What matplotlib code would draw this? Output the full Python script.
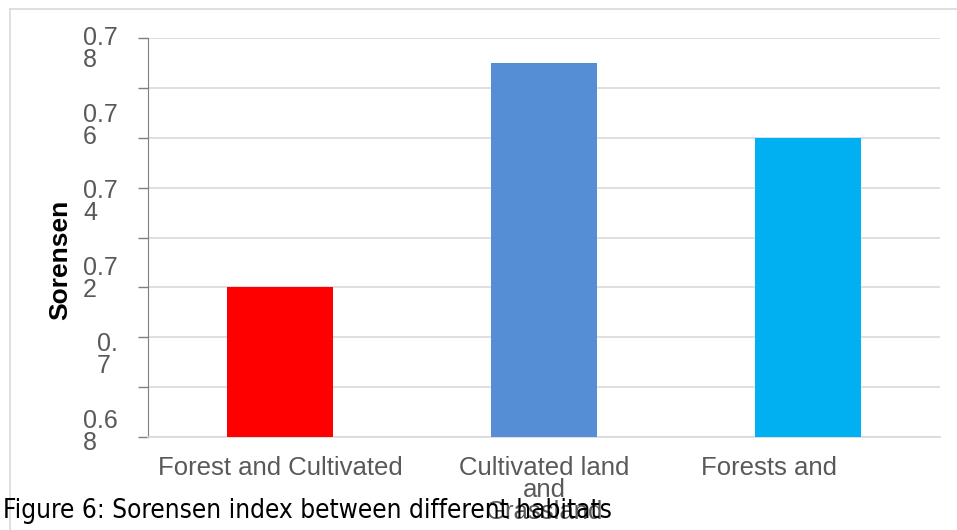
import matplotlib
matplotlib.use("Agg")
import matplotlib.pyplot as plt
from matplotlib import font_manager
import numpy as np

categories = ["Forest and Cultivated", "Cultivated land\nand\nGrassland", "Forests and"]
values = [0.7175, 0.7737, 0.755]
colors = ["#FF0000", "#558ED5", "#00B0F0"]
ytick_values = [0.78, 0.76, 0.74, 0.72, 0.70, 0.68]
ytick_labels = ["0.7\n8", "0.7\n6", "0.7\n4", "0.7\n2", "0.\n7", "0.6\n8"]
grid_values = list(np.linspace(0.68, 0.78, 9))
ylabel = "Sorensen"
caption = "Figure 6: Sorensen index between different habitats"

names = {f.name for f in font_manager.fontManager.ttflist}
narrow = "Liberation Sans Narrow" if "Liberation Sans Narrow" in names else "DejaVu Sans"

W, H = 957, 530
fig = plt.figure(figsize=(W / 100, H / 100), dpi=100)
fig.patch.set_facecolor("white")

# outer frame lines
fig.add_artist(plt.Line2D([10 / W, 1.0], [1 - 9 / H, 1 - 9 / H], color="#d9d9d9", lw=1.2))
fig.add_artist(plt.Line2D([10 / W, 10 / W], [1 - 9 / H, 0], color="#d9d9d9", lw=1.2))

ax_top, ax_bot = 38, 437
ax = fig.add_axes([148 / W, 1 - ax_bot / H, (940 - 148) / W, (ax_bot - ax_top) / H])
x = np.arange(len(categories))
ax.bar(x, values, width=0.4, color=colors, zorder=3)
ax.set_xlim(-0.5, 2.5)
ax.set_ylim(0.68, 0.78)

ax.set_yticks(grid_values)
ax.set_yticklabels([])
ax.tick_params(axis="y", length=7, color="#7f7f7f", width=1, direction="out")
ax.grid(axis="y", color="#d9d9d9", lw=1.2, zorder=0)
ax.set_xticks([])

for s in ["top", "right"]:
    ax.spines[s].set_visible(False)
ax.spines["left"].set_color("#7f7f7f")
ax.spines["bottom"].set_color("#d9d9d9")
ax.spines["bottom"].set_linewidth(1.2)

# wrapped tick labels, laid out as in the reference (slightly compressed spacing)
label_centers_px = np.linspace(49, 432, len(ytick_labels))
for cpx, lab in zip(label_centers_px, ytick_labels):
    ya = 1 - (cpx - ax_top) / (ax_bot - ax_top)
    ax.text(-30 / 792, ya, lab, ha="right", va="center", fontsize=18,
            color="#595959", family="Liberation Sans", linespacing=0.9,
            transform=ax.transAxes, clip_on=False, multialignment="left")

xlabel_shift = [0, 0, -39 / 264]
for xi, lab, sh in zip(x, categories, xlabel_shift):
    ax.text(xi + sh, 0.68 - 19 / 399 * 0.1, lab, ha="center", va="top", fontsize=18.5,
            color="#595959", family="Liberation Sans", linespacing=0.9,
            clip_on=False)

fig.text(60 / W, 1 - 260 / H, ylabel, rotation=90, ha="center", va="center",
         fontsize=19, fontweight="bold", family="Liberation Sans", color="black")

fig.text(3 / W, 1 - 511 / H, caption, ha="left", va="center", fontsize=18.8,
         family=narrow, fontstretch="condensed", color="black")

fig.savefig("out.png", dpi=100, facecolor="white")
